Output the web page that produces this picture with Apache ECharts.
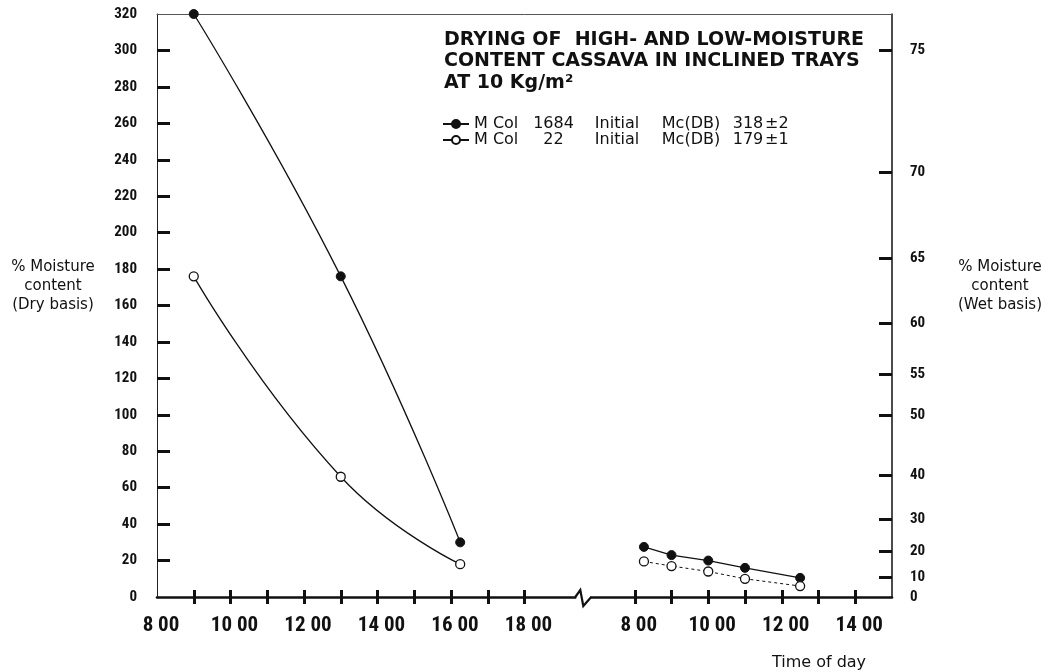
<!DOCTYPE html>
<html>
<head>
<meta charset="utf-8">
<title>Drying of cassava in inclined trays</title>
<script src="https://cdn.jsdelivr.net/npm/echarts@6.0.0/dist/echarts.min.js"></script>
<style>
  html, body { margin: 0; padding: 0; background: #fff; }
  #chart { width: 1052px; height: 672px; }
</style>
</head>
<body>
<div id="chart"></div>
<script>
// Time of day (hours) for each reading
const day1Times = [9, 13, 16.25];
const day2Times = [8.25, 9, 10, 11, 12.5];

// Moisture content, % dry basis
const col1684Day1 = [320, 176, 30];
const col1684Day2 = [27.5, 23, 20, 16, 10.5];
const col22Day1 = [176, 66, 18];
const col22Day2 = [19.5, 17, 14, 10, 6];

// Legend entries
const legendNames = ['M Col 1684', 'M Col 22'];
const varieties = ['1684', '22'];
const initialMc = ['318', '179'];
const tolerances = ['±2', '±1'];

// Axis ticks and labels
const dryLabels = [0, 20, 40, 60, 80, 100, 120, 140, 160, 180, 200, 220, 240, 260, 280, 300, 320];
const wetLabels = [0, 10, 20, 30, 40, 50, 55, 60, 65, 70, 75];
const day1LabelHours = [8, 10, 12, 14, 16, 18];
const day1TickHours = [9, 10, 11, 12, 13, 14, 15, 16, 17, 18];
const day2LabelHours = [8, 10, 12, 14];
const day2TickHours = [8, 9, 10, 11, 12, 13, 14];

// The second day is drawn on the same axis, shifted past the break
const DAY2_SHIFT = 13;
const BREAK_AT = 19.6;
const X_MIN = 8, X_MAX = 28;

const toAxisX = (h, day) => day === 2 ? h + DAY2_SHIFT : h;
const wetToDry = w => 100 * w / (100 - w);
const dryToWet = d => 100 * d / (100 + d);

const pairs = (times, vals, day) => times.map((t, i) => [toAxisX(t, day), vals[i]]);

const xLabelValues = day1LabelHours.map(h => toAxisX(h, 1)).concat(day2LabelHours.map(h => toAxisX(h, 2)));
const xTickValues = day1TickHours.map(h => toAxisX(h, 1)).concat(day2TickHours.map(h => toAxisX(h, 2)));

// Use a narrow face for the tick numerals when one is installed
function firstInstalled(families) {
  const ctx = document.createElement('canvas').getContext('2d');
  const sample = '0123456789 00 Time';
  ctx.font = 'bold 40px monospace';
  const base = ctx.measureText(sample).width;
  for (const f of families) {
    ctx.font = `bold 40px "${f}", monospace`;
    if (Math.abs(ctx.measureText(sample).width - base) > 0.5) return f;
  }
  return null;
}
const narrowFace = firstInstalled(['Liberation Sans Narrow', 'Roboto Condensed', 'DejaVu Sans Condensed', 'Open Sans Condensed', 'Arial Narrow', 'Nimbus Sans Narrow']);
const tickFont = narrowFace ? `"${narrowFace}", sans-serif` : "'Liberation Sans', Arial, sans-serif";
const xTickSize = narrowFace ? 21 : 16;
const yTickSize = narrowFace ? 15 : 12.5;

const INK = '#111';
const textFont = "'DejaVu Sans', 'Liberation Sans', sans-serif";

const chart = echarts.init(document.getElementById('chart'));

const filledLine = { color: INK, width: 1.3 };
const filledItem = { color: INK, borderColor: INK, borderWidth: 1 };
const openItem = { color: '#fff', borderColor: INK, borderWidth: 1.3 };
const legendToken = { fontFamily: textFont, fontSize: 16, color: INK };

chart.setOption({
  backgroundColor: '#fff',
  animation: false,
  title: {
    text: 'DRYING OF  HIGH- AND LOW-MOISTURE\nCONTENT CASSAVA IN INCLINED TRAYS\nAT 10 Kg/m²',
    left: 444,
    top: 29,
    padding: 0,
    textStyle: {
      fontFamily: textFont,
      fontWeight: 'bold',
      fontSize: 19,
      lineHeight: 21.5,
      color: INK
    }
  },
  legend: {
    data: legendNames,
    orient: 'vertical',
    left: 442,
    top: 116,
    padding: 0,
    itemGap: 0,
    itemWidth: 26,
    itemHeight: 10,
    selectedMode: false,
    formatter: name => {
      const i = legendNames.indexOf(name);
      return `{a|M Col}{b|${varieties[i]}}{c|Initial}{d|Mc(DB)}{e|${initialMc[i]}}{f|${tolerances[i]}}`;
    },
    textStyle: {
      fontFamily: textFont,
      fontSize: 16,
      color: INK,
      rich: {
        a: Object.assign({ width: 50 }, legendToken),
        b: Object.assign({ width: 59, align: 'center' }, legendToken),
        c: Object.assign({ width: 68 }, legendToken),
        d: Object.assign({ width: 80 }, legendToken),
        e: Object.assign({ width: 34 }, legendToken),
        f: Object.assign({}, legendToken)
      }
    }
  },
  grid: { left: 157, right: 160, top: 14, bottom: 75 },
  xAxis: [
    {
      type: 'value', position: 'bottom', min: X_MIN, max: X_MAX,
      axisLine: { show: true, onZero: false, lineStyle: { color: INK, width: 2.6 } },
      axisTick: { show: true, inside: true, length: 7, customValues: xTickValues, lineStyle: { color: INK, width: 3 } },
      axisLabel: {
        customValues: xLabelValues,
        formatter: v => (v > BREAK_AT ? v - DAY2_SHIFT : v) + ' 00',
        margin: 18,
        padding: [0, 0, 0, 8],
        fontFamily: tickFont, fontWeight: 'bold', fontSize: xTickSize, color: INK
      },
      splitLine: { show: false }
    },
    {
      // lower halves of the time ticks, so they cross the axis line
      type: 'value', position: 'bottom', min: X_MIN, max: X_MAX,
      axisLine: { show: false, onZero: false },
      axisTick: { show: true, inside: false, length: 7, customValues: xTickValues, lineStyle: { color: INK, width: 3 } },
      axisLabel: { show: false },
      splitLine: { show: false }
    },
    {
      // upper frame line
      type: 'value', position: 'top', min: X_MIN, max: X_MAX,
      axisLine: { show: true, onZero: false, lineStyle: { color: '#555', width: 1 } },
      axisTick: { show: false },
      axisLabel: { show: false },
      splitLine: { show: false }
    },
    {
      // carries the time axis title below the hour labels
      type: 'value', position: 'bottom', offset: 66, min: X_MIN, max: X_MAX,
      name: 'Time of day',
      nameLocation: 'end',
      nameGap: -73,
      nameMoveOverlap: false,
      nameTextStyle: { fontFamily: textFont, fontSize: 16, color: INK, align: 'center', verticalAlign: 'middle' },
      axisLine: { show: false, onZero: false },
      axisTick: { show: false },
      axisLabel: { show: false },
      splitLine: { show: false }
    }
  ],
  yAxis: [
    {
      type: 'value', position: 'left', min: 0, max: 320,
      name: '% Moisture\ncontent\n(Dry basis)\n\n',
      nameLocation: 'middle',
      nameRotate: 0,
      nameGap: 104,
      nameTextStyle: { fontFamily: textFont, fontSize: 15, lineHeight: 19, color: INK, align: 'center', verticalAlign: 'middle' },
      axisLine: { show: true, onZero: false, lineStyle: { color: '#222', width: 1 } },
      axisTick: { show: true, inside: true, length: 13, customValues: dryLabels.slice(1, -1), lineStyle: { color: INK, width: 3 } },
      axisLabel: {
        customValues: dryLabels,
        margin: 20,
        fontFamily: tickFont, fontWeight: 'bold', fontSize: yTickSize, color: INK
      },
      splitLine: { show: false }
    },
    {
      type: 'value', position: 'right', min: 0, max: 320,
      name: '% Moisture\ncontent\n(Wet basis)\n\n',
      nameLocation: 'middle',
      nameRotate: 0,
      nameGap: 108,
      nameTextStyle: { fontFamily: textFont, fontSize: 15, lineHeight: 19, color: INK, align: 'center', verticalAlign: 'middle' },
      axisLine: { show: true, onZero: false, lineStyle: { color: INK, width: 1.5 } },
      axisTick: { show: true, inside: true, length: 13, customValues: wetLabels.slice(1).map(wetToDry), lineStyle: { color: INK, width: 3 } },
      axisLabel: {
        customValues: wetLabels.map(wetToDry),
        formatter: v => String(Math.round(dryToWet(v))),
        margin: 18,
        fontFamily: tickFont, fontWeight: 'bold', fontSize: yTickSize, color: INK
      },
      splitLine: { show: false }
    }
  ],
  series: [
    {
      name: legendNames[0], type: 'line', xAxisIndex: 0, yAxisIndex: 0,
      data: pairs(day1Times, col1684Day1, 1),
      smooth: 0.5, symbol: 'circle', symbolSize: 9,
      lineStyle: filledLine, itemStyle: filledItem, z: 3
    },
    {
      name: legendNames[1], type: 'line', xAxisIndex: 0, yAxisIndex: 0,
      data: pairs(day1Times, col22Day1, 1),
      smooth: 0.5, symbol: 'circle', symbolSize: 9,
      lineStyle: filledLine, itemStyle: openItem, z: 3
    },
    {
      name: legendNames[0], type: 'line', xAxisIndex: 0, yAxisIndex: 0,
      data: pairs(day2Times, col1684Day2, 2),
      symbol: 'circle', symbolSize: 9,
      lineStyle: { color: INK, width: 1.2 }, itemStyle: filledItem, z: 3
    },
    {
      name: legendNames[1], type: 'line', xAxisIndex: 0, yAxisIndex: 0,
      data: pairs(day2Times, col22Day2, 2),
      symbol: 'circle', symbolSize: 9,
      lineStyle: { color: INK, width: 1, type: [3, 3] }, itemStyle: openItem, z: 3
    },
    {
      // zig-zag mark where the time axis is broken between the two days
      type: 'custom', xAxisIndex: 0, yAxisIndex: 0,
      data: [[BREAK_AT, 0]],
      silent: true, clip: false, z: 5,
      renderItem: (params, api) => {
        const p = api.coord([api.value(0), api.value(1)]);
        const x = p[0], y = p[1];
        return {
          type: 'group',
          children: [
            { type: 'rect', shape: { x: x - 7, y: y - 3, width: 14, height: 6 }, style: { fill: '#fff' } },
            {
              type: 'polyline',
              shape: { points: [[x - 8, y], [x - 3, y - 7], [x, y + 9], [x + 7, y + 1], [x + 8, y]] },
              style: { stroke: INK, lineWidth: 2.2, fill: null }
            }
          ]
        };
      }
    }
  ]
});
</script>
</body>
</html>
